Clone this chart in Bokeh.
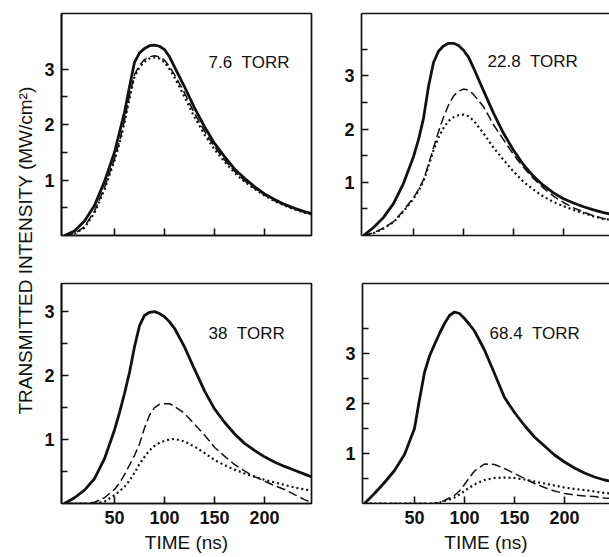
import math
from bokeh.plotting import figure
from bokeh.layouts import row, column
from bokeh.models import FixedTicker, LinearAxis, Label, Range1d
from bokeh.embed import file_html
from bokeh.resources import INLINE

# ---------------- data ----------------
time_ns = [0, 10, 20, 30, 40, 50, 55, 60, 65, 70, 75, 80, 85, 90, 95, 100, 105, 110,
           120, 130, 140, 150, 160, 170, 180, 190, 200, 210, 220, 230, 240, 248]

# 7.6 Torr
tl_solid = [0, .08, .26, .54, .97, 1.50, 1.86, 2.22, 2.68, 3.12, 3.29, 3.37, 3.42, 3.43, 3.41, 3.35,
            3.22, 3.04, 2.68, 2.30, 1.96, 1.66, 1.42, 1.20, 1.03, .88, .75, .65, .56, .49, .43, .39]
tl_dash = [0, .04, .16, .44, .86, 1.38, 1.70, 2.07, 2.52, 2.90, 3.07, 3.17, 3.22, 3.24, 3.22, 3.16,
           3.04, 2.90, 2.57, 2.20, 1.88, 1.60, 1.36, 1.16, .99, .85, .73, .63, .55, .48, .42, .38]
tl_dot = [0, .03, .14, .41, .83, 1.35, 1.66, 2.03, 2.47, 2.86, 3.03, 3.13, 3.19, 3.21, 3.19, 3.12,
          3.00, 2.85, 2.50, 2.13, 1.82, 1.55, 1.33, 1.13, .97, .84, .72, .62, .54, .47, .41, .38]

# 22.8 Torr
tr_solid = [0, .15, .34, .60, .98, 1.48, 1.80, 2.20, 2.80, 3.25, 3.46, 3.56, 3.61, 3.61, 3.57, 3.48,
            3.35, 3.15, 2.72, 2.30, 1.92, 1.60, 1.33, 1.11, .94, .80, .69, .61, .54, .48, .43, .40]
tr_dash = [0, .05, .14, .26, .47, .71, .86, 1.05, 1.33, 1.65, 1.95, 2.22, 2.45, 2.62, 2.71, 2.75,
           2.73, 2.65, 2.42, 2.08, 1.80, 1.52, 1.28, 1.07, .89, .74, .62, .52, .44, .37, .32, .29]
tr_dot = [0, .04, .13, .25, .45, .69, .84, 1.02, 1.30, 1.60, 1.84, 2.02, 2.15, 2.22, 2.26, 2.27,
          2.24, 2.16, 1.92, 1.65, 1.42, 1.20, 1.01, .86, .73, .63, .55, .48, .42, .36, .31, .29]

# 38 Torr
bl_solid = [0, .09, .21, .39, .70, 1.15, 1.42, 1.72, 2.05, 2.45, 2.78, 2.94, 2.99, 3.00, 2.97, 2.92,
            2.84, 2.74, 2.45, 2.10, 1.76, 1.48, 1.27, 1.09, .94, .83, .73, .65, .58, .52, .46, .41]
bl_dash = [0, 0, 0, .02, .09, .22, .32, .45, .60, .75, .93, 1.18, 1.38, 1.50, 1.55, 1.56,
           1.56, 1.52, 1.41, 1.24, 1.07, .88, .74, .61, .51, .42, .35, .28, .22, .14, .06, .01]
bl_dot = [0, 0, 0, 0, .03, .13, .19, .26, .36, .48, .62, .73, .83, .90, .95, .98,
          1.00, 1.01, .97, .89, .79, .68, .60, .53, .47, .42, .37, .33, .29, .25, .22, .20]

# 68.4 Torr
br_solid = [0, .20, .42, .66, .98, 1.50, 2.08, 2.62, 2.95, 3.18, 3.40, 3.60, 3.76, 3.83, 3.80, 3.70,
            3.58, 3.45, 3.07, 2.60, 2.12, 1.82, 1.56, 1.33, 1.15, .97, .83, .71, .61, .53, .47, .44]
br_dash = [0, 0, 0, 0, 0, 0, 0, 0, 0, 0, .03, .06, .11, .16, .25, .38,
           .52, .65, .79, .78, .70, .60, .50, .40, .32, .25, .20, .17, .15, .14, .11, .10]
br_dot = [0, 0, 0, 0, 0, 0, 0, 0, 0, 0, .02, .05, .08, .12, .18, .25,
          .32, .38, .47, .51, .52, .51, .48, .44, .40, .36, .32, .29, .27, .24, .21, .20]

pressure_labels = ["7.6 \u00a0TORR", "22.8 \u00a0TORR", "38 \u00a0TORR", "68.4 \u00a0TORR"]
x_ticks = [50, 100, 150, 200]
y_major = [1, 2, 3]
y_minor_low = [0.5, 1.5, 2.5]
y_minor_high = [0.5, 1.5, 2.5, 3.5]
x_title = "TIME (ns)"
y_title = "TRANSMITTED INTENSITY (MW/cm\u00b2)"

FONT = "Liberation Sans"
INK = "#111111"


def style_axis(ax, ticks, minor, labels):
    ax.ticker = FixedTicker(ticks=ticks, minor_ticks=minor)
    ax.major_tick_in = 7
    ax.major_tick_out = 0
    ax.minor_tick_in = 6
    ax.minor_tick_out = 0
    ax.axis_line_width = 1.7
    ax.axis_line_color = INK
    ax.major_tick_line_width = 1.6
    ax.major_tick_line_color = INK
    ax.minor_tick_line_width = 1.5
    ax.minor_tick_line_color = INK
    ax.major_label_text_font = FONT
    ax.major_label_text_font_style = "bold"
    ax.major_label_text_font_size = "18px"
    ax.major_label_text_color = INK
    ax.major_label_standoff = 7
    if not labels:
        ax.major_label_overrides = {t: "" for t in ticks}


def panel(solid, dash, dot, text, lx, ly, xr, yr, minor, w, h, mbl, mbr, mbt, mbb,
          x_labels, open_right):
    p = figure(width=w, height=h, x_range=Range1d(*xr), y_range=Range1d(*yr),
               output_backend="svg", toolbar_location=None,
               min_border_left=mbl, min_border_right=mbr,
               min_border_top=mbt, min_border_bottom=mbb)
    p.grid.visible = False
    p.background_fill_color = "white"
    p.border_fill_color = "white"
    style_axis(p.xaxis[0], x_ticks, [], x_labels)
    style_axis(p.yaxis[0], y_major, minor, True)
    if x_labels:
        p.xaxis[0].axis_label = x_title
        p.xaxis[0].axis_label_text_font = FONT
        p.xaxis[0].axis_label_text_font_style = "normal"
        p.xaxis[0].axis_label_text_font_size = "19px"
        p.xaxis[0].axis_label_text_color = INK
        p.xaxis[0].axis_label_standoff = 5
    if open_right:
        p.outline_line_color = None
        top = LinearAxis(ticker=FixedTicker(ticks=[]), major_tick_in=0, major_tick_out=0,
                         minor_tick_in=0, minor_tick_out=0, major_label_standoff=0,
                         axis_line_width=1.7, axis_line_color=INK)
        p.add_layout(top, "above")
    else:
        p.outline_line_color = INK
        p.outline_line_width = 1.7
        p.outline_line_alpha = 1.0

    p.line(time_ns, solid, line_color=INK, line_width=2.8)
    p.line(time_ns, dash, line_color=INK, line_width=1.5, line_dash="9 4")
    p.line(time_ns, dot, line_color=INK, line_width=2.2, line_dash="2 3")
    p.add_layout(Label(x=lx, y=ly, text=text, text_font=FONT, text_font_size="17px",
                       text_color=INK, text_align="left", text_baseline="alphabetic"))
    return p


tl = panel(tl_solid, tl_dash, tl_dot, pressure_labels[0], 144, 3.11, (-3, 247), (0, 4.0),
           y_minor_low, 298, 259, 23, 25, 13, 24, False, False)
tr = panel(tr_solid, tr_dash, tr_dot, pressure_labels[1], 124, 3.27, (-2, 246), (0, 4.17),
           y_minor_high, 273, 259, 25, 0, 13, 24, False, True)
bl = panel(bl_solid, bl_dash, bl_dot, pressure_labels[2], 144, 2.66, (-3, 247), (0, 3.44),
           y_minor_low, 298, 298, 23, 25, 24, 54, True, False)
br = panel(br_solid, br_dash, br_dot, pressure_labels[3], 125, 3.41, (-2, 245), (0, 4.4),
           y_minor_high, 273, 298, 26, 0, 24, 54, True, True)

lab = figure(width=38, height=557, x_range=Range1d(0, 38), y_range=Range1d(0, 557),
             x_axis_type=None, y_axis_type=None, output_backend="svg",
             toolbar_location=None, min_border=0)
lab.outline_line_color = None
lab.grid.visible = False
lab.add_layout(Label(x=25, y=307, text=y_title, angle=math.pi / 2, text_align="center",
                     text_baseline="middle", text_font=FONT, text_font_size="19px",
                     text_color=INK))

layout = row(lab, column(row(tl, tr), row(bl, br)))

open("out.html", "w").write(file_html(layout, INLINE))
